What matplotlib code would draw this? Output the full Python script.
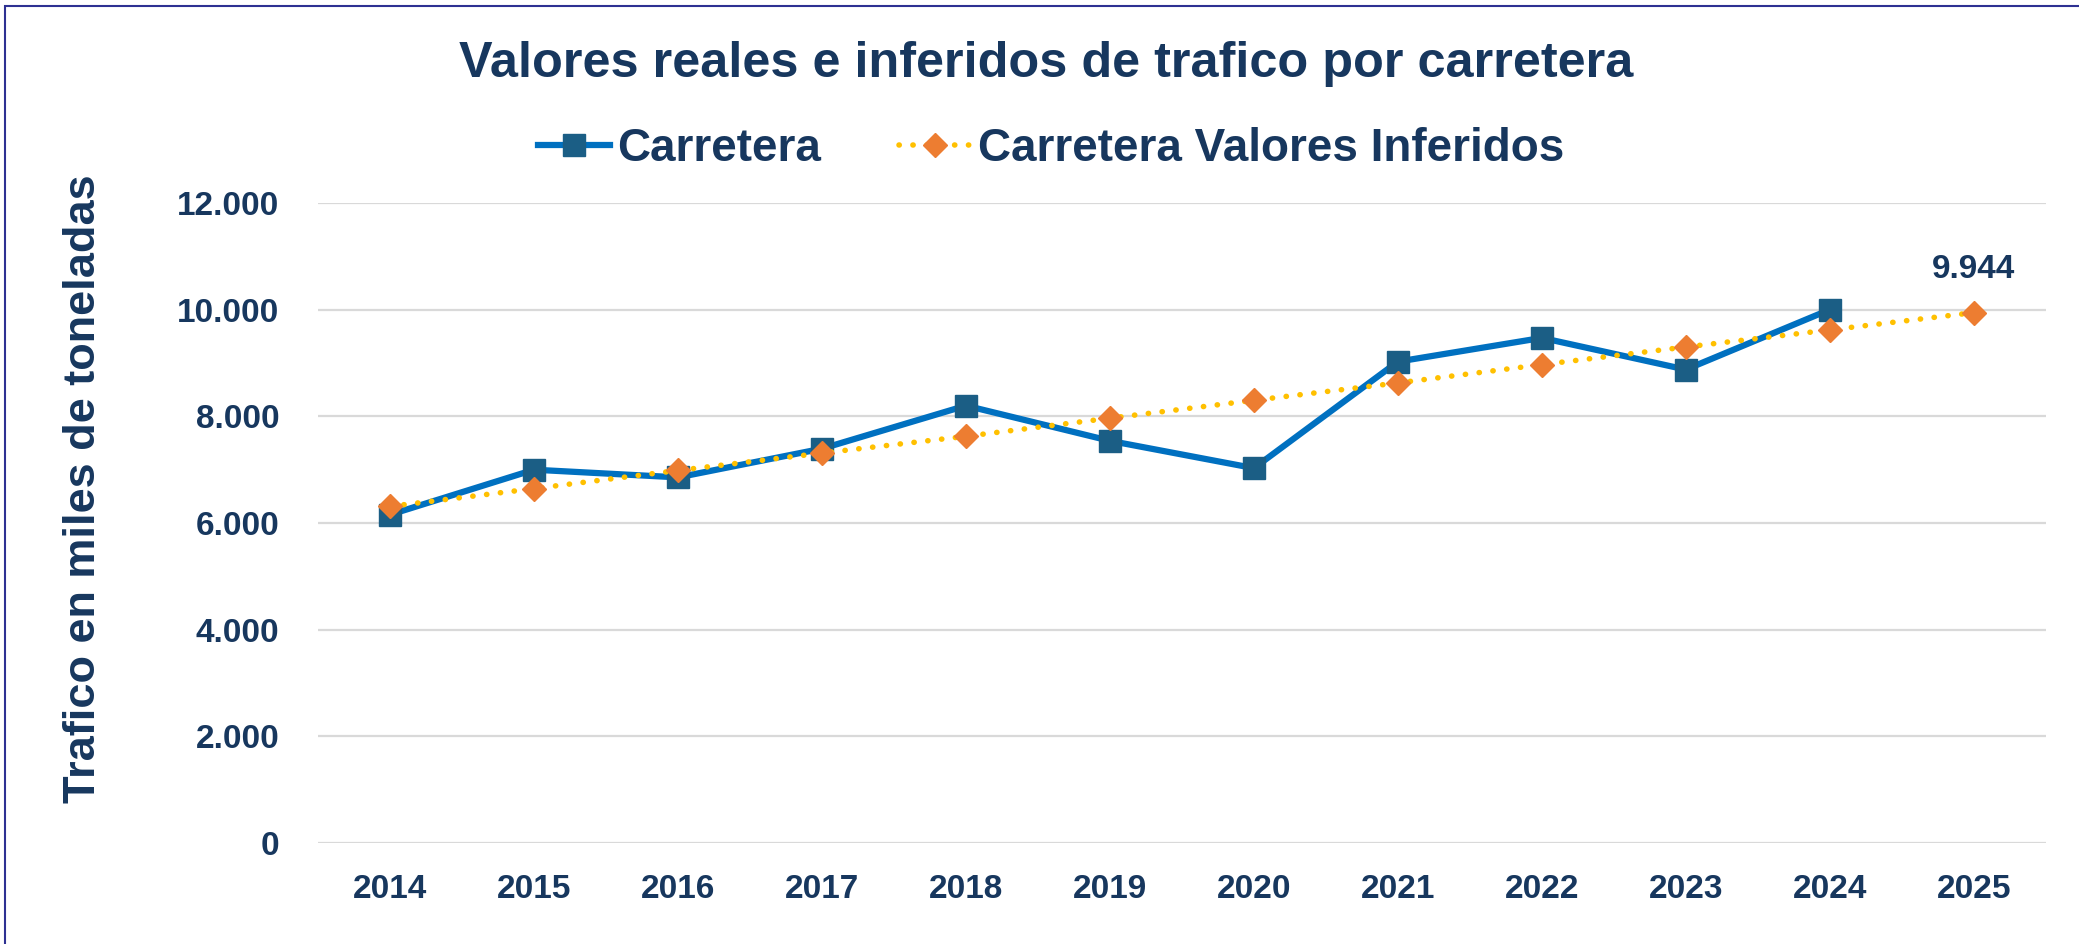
import matplotlib
matplotlib.use("Agg")
import matplotlib.pyplot as plt
from matplotlib.ticker import FuncFormatter
from matplotlib.patches import Rectangle

# Datos
years = ["2014", "2015", "2016", "2017", "2018", "2019", "2020",
         "2021", "2022", "2023", "2024", "2025"]
carretera = [6156, 6999, 6855, 7393, 8200, 7540, 7028, 9025, 9470, 8876, 10000]
inferidos = [6311, 6645, 6985, 7311, 7625, 7965, 8300, 8626, 8969, 9300, 9620, 9944]

navy = "#17375E"
plt.rcParams["font.family"] = ["Liberation Sans", "DejaVu Sans"]
plt.rcParams["font.weight"] = "bold"

fig = plt.figure(figsize=(20.79, 9.44), dpi=100)
ax = fig.add_axes([0.153, 0.107, 0.831, 0.678])

x_c = list(range(len(carretera)))
x_i = list(range(len(inferidos)))

ax.plot(x_i, inferidos, color="#FFC000", linewidth=4, linestyle=(0, (0.05, 2.45)),
        dash_capstyle="round", marker="D", markersize=12.5, markerfacecolor="#ED7D31",
        markeredgecolor="#ED7D31", label="Carretera Valores Inferidos", zorder=3)
ax.plot(x_c, carretera, color="#0070C0", linewidth=4.5, marker="s", markersize=15.5,
        markerfacecolor="#1B5E85", markeredgecolor="#1B5E85", label="Carretera", zorder=2)

# Etiqueta del ultimo valor
ax.annotate(f"{inferidos[-1]:,}".replace(",", "."), (x_i[-1], inferidos[-1]),
            xytext=(0, 20), textcoords="offset points", ha="center", va="bottom",
            fontsize=24, fontweight="bold", color=navy)

ax.set_xlim(-0.5, len(years) - 0.5)
ax.set_ylim(0, 12000)
ax.set_xticks(range(len(years)))
ax.set_xticklabels(years)
ax.set_yticks(range(0, 12001, 2000))
ax.yaxis.set_major_formatter(FuncFormatter(lambda v, p: f"{int(v):,}".replace(",", ".")))
ax.grid(axis="y", color="#D9D9D9", linewidth=1.6)
ax.set_axisbelow(True)
for s in ax.spines.values():
    s.set_visible(False)
ax.tick_params(length=0, labelsize=24, labelcolor=navy)
ax.tick_params(axis="y", pad=28)
ax.tick_params(axis="x", pad=22)
for lab in ax.get_xticklabels() + ax.get_yticklabels():
    lab.set_fontweight("bold")

fig.text(0.040, 0.482, "Trafico en miles de toneladas", rotation=90, ha="center", va="center",
         fontsize=32.5, fontweight="bold", color=navy)
fig.text(0.503, 0.932, "Valores reales e inferidos de trafico por carretera", ha="center", va="center",
         fontsize=36.3, fontweight="bold", color=navy)

handles, labels = ax.get_legend_handles_labels()
leg = fig.legend(handles[::-1], labels[::-1], loc="center", bbox_to_anchor=(0.5055, 0.842),
                 ncol=2, frameon=False, handlelength=1.57, columnspacing=1.7, handletextpad=0.15,
                 prop={"size": 33, "weight": "bold"})
for t in leg.get_texts():
    t.set_color(navy)

# Marco
fig.patches.append(Rectangle((0.0025, -0.05), 1.1, 1.044, transform=fig.transFigure,
                             fill=False, edgecolor="#2E3192", linewidth=1.5))

fig.savefig("out.png", dpi=100)
